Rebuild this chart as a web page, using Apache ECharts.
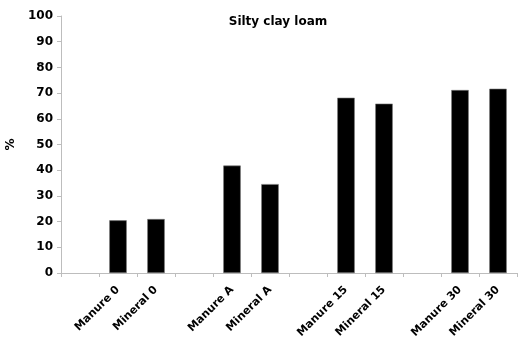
<!DOCTYPE html>
<html><head><meta charset="utf-8">
<script src="https://cdn.jsdelivr.net/npm/echarts@6/dist/echarts.min.js"></script>
<style>html,body{margin:0;padding:0;background:#fff}#c{width:518px;height:340px}</style>
</head><body><div id="c"></div>
<script>
const categories = ['', 'Manure 0', 'Mineral 0', ' ', 'Manure A', 'Mineral A', '  ', 'Manure 15', 'Mineral 15', '   ', 'Manure 30', 'Mineral 30'];
const values = [null, 20.5, 21.0, null, 41.8, 34.6, null, 68.2, 65.9, null, 71.2, 71.7];
const yTicks = [0, 10, 20, 30, 40, 50, 60, 70, 80, 90, 100];
const titleText = 'Silty clay loam';
const yName = '%';

const chart = echarts.init(document.getElementById('c'), null, {renderer: 'canvas'});
const font = 'DejaVu Sans, sans-serif';
chart.setOption({
  animation: false,
  title: {text: titleText, left: 273, top: 11, textAlign: 'center',
    textStyle: {fontFamily: font, fontWeight: 'bold', fontSize: 12, color: '#000'}},
  grid: {left: 61, right: 1, top: 16, bottom: 67, containLabel: false, outerBoundsMode: 'none'},
  xAxis: {type: 'category', data: categories,
    axisLine: {lineStyle: {color: '#bdbdbd', width: 1}},
    axisTick: {show: true, alignWithLabel: false, length: 4, lineStyle: {color: '#bdbdbd'}},
    axisLabel: {rotate: 45, interval: 0, margin: 15, fontFamily: font, fontWeight: 'bold', fontSize: 11, color: '#000'}},
  yAxis: {type: 'value', min: yTicks[0], max: yTicks[yTicks.length-1], interval: 10,
    name: yName, nameLocation: 'middle', nameGap: 43, nameRotate: 90,
    nameTextStyle: {fontFamily: font, fontWeight: 'bold', fontSize: 12, color: '#000'},
    axisLine: {show: true, lineStyle: {color: '#bdbdbd'}},
    axisTick: {show: true, length: 4, lineStyle: {color: '#bdbdbd'}},
    splitLine: {show: false},
    axisLabel: {margin: 8, fontFamily: font, fontWeight: 'bold', fontSize: 12, color: '#000'}},
  series: [{type: 'bar', data: values, barWidth: '46%',
    itemStyle: {color: '#000', borderColor: '#777', borderWidth: 0.6}}]
});
</script></body></html>
